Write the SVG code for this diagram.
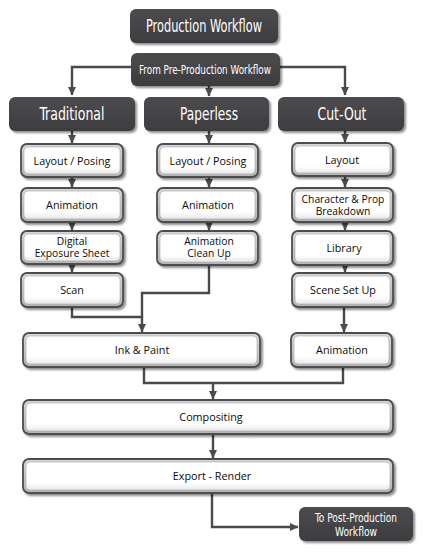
<svg xmlns="http://www.w3.org/2000/svg" width="423" height="552" viewBox="0 0 423 552">
<defs>
<marker id="arr" markerUnits="userSpaceOnUse" markerWidth="9" markerHeight="9" viewBox="0 0 9 9" refX="8" refY="4.5" orient="auto">
<path d="M0,0.5 L8.5,4.5 L0,8.5 Z" fill="#4a4a4c"/>
</marker>
<linearGradient id="wg" x1="0" y1="0" x2="0" y2="1">
<stop offset="0" stop-color="#ffffff"/>
<stop offset="0.75" stop-color="#ffffff"/>
<stop offset="1" stop-color="#e8e8e8"/>
</linearGradient>
<linearGradient id="og" x1="0" y1="0" x2="0" y2="1">
<stop offset="0" stop-color="#d8d8d8"/>
<stop offset="1" stop-color="#b4b4b4"/>
</linearGradient>
<linearGradient id="dg" x1="0" y1="0" x2="0" y2="1">
<stop offset="0" stop-color="#4c4b4e"/>
<stop offset="1" stop-color="#3e3d40"/>
</linearGradient>
<filter id="sh" x="-10%" y="-20%" width="125%" height="150%">
<feGaussianBlur in="SourceAlpha" stdDeviation="1.2"/>
<feOffset dx="1.5" dy="1.5" result="b"/>
<feComponentTransfer><feFuncA type="linear" slope="0.45"/></feComponentTransfer>
<feMerge><feMergeNode/><feMergeNode in="SourceGraphic"/></feMerge>
</filter>
</defs>
<style>
.dk{fill:url(#dg);filter:url(#sh)}
.wo{fill:url(#og);stroke:#4e4e50;stroke-width:1.8;filter:url(#sh)}
.wi{fill:url(#wg);stroke:#a8a8a8;stroke-width:0.6}
.tl{font-family:"Liberation Sans Narrow","DejaVu Sans Condensed","Liberation Sans",sans-serif;fill:#ffffff;text-anchor:middle}
.tw{font-family:"Open Sans","Noto Sans","Liberation Sans",sans-serif;font-size:10.8px;fill:#0a0a0a;text-anchor:middle}
.t2{font-size:10.3px}
.cn{fill:none;stroke:#4a4a4c;stroke-width:2.4}
</style>
<rect width="423" height="552" fill="#ffffff"/>

<g id="connectors">
<path class="cn" d="M131,67 H72 V95" marker-end="url(#arr)"/>
<path class="cn" d="M280,67 H345 V95" marker-end="url(#arr)"/>
<path class="cn" d="M209,86 V96" marker-end="url(#arr)"/>
<path class="cn" d="M72,131 V143" marker-end="url(#arr)"/>
<path class="cn" d="M209,131 V143" marker-end="url(#arr)"/>
<path class="cn" d="M345,131 V142" marker-end="url(#arr)"/>
<path class="cn" d="M72,177 V187" marker-end="url(#arr)"/>
<path class="cn" d="M72,222 V230" marker-end="url(#arr)"/>
<path class="cn" d="M72,264 V272" marker-end="url(#arr)"/>
<path class="cn" d="M209,177 V187" marker-end="url(#arr)"/>
<path class="cn" d="M209,222 V230" marker-end="url(#arr)"/>
<path class="cn" d="M345,176 V187" marker-end="url(#arr)"/>
<path class="cn" d="M345,222 V230" marker-end="url(#arr)"/>
<path class="cn" d="M345,265 V272" marker-end="url(#arr)"/>
<path class="cn" d="M72,307 V317 H142 V332" marker-end="url(#arr)"/>
<path class="cn" d="M209,265 V293 H142 V317"/>
<path class="cn" d="M344,307 V332" marker-end="url(#arr)"/>
<path class="cn" d="M144,367 V383 H343 V367"/>
<path class="cn" d="M213,383 V399" marker-end="url(#arr)"/>
<path class="cn" d="M213,434 V458" marker-end="url(#arr)"/>
<path class="cn" d="M212,493 V527 H298" marker-end="url(#arr)"/>
</g>

<g id="production-workflow">
<rect class="dk" x="130" y="9" width="148" height="34" rx="6"/>
<text class="tl" x="204" y="32" font-size="17" textLength="116" lengthAdjust="spacingAndGlyphs">Production Workflow</text>
</g>
<g id="from-pre-production">
<rect class="dk" x="131" y="53" width="149" height="33" rx="6"/>
<text class="tl" x="205" y="74" font-size="13" textLength="132" lengthAdjust="spacingAndGlyphs">From Pre-Production Workflow</text>
</g>
<g id="traditional">
<rect class="dk" x="9" y="97" width="126" height="34" rx="6"/>
<text class="tl" x="72" y="120" font-size="17" textLength="65" lengthAdjust="spacingAndGlyphs">Traditional</text>
</g>
<g id="paperless">
<rect class="dk" x="144" y="97" width="125" height="34" rx="6"/>
<text class="tl" x="209" y="120" font-size="17" textLength="58" lengthAdjust="spacingAndGlyphs">Paperless</text>
</g>
<g id="cut-out">
<rect class="dk" x="278" y="97" width="126" height="34" rx="6"/>
<text class="tl" x="342" y="120" font-size="17" textLength="49" lengthAdjust="spacingAndGlyphs">Cut-Out</text>
</g>

<g id="trad-layout">
<rect class="wo" x="21" y="144" width="102" height="33" rx="6"/>
<rect class="wi" x="24" y="147" width="96" height="27" rx="4"/>
<text class="tw" x="72" y="164.5">Layout / Posing</text>
</g>
<g id="trad-animation">
<rect class="wo" x="21" y="188" width="102" height="34" rx="6"/>
<rect class="wi" x="24" y="191" width="96" height="28" rx="4"/>
<text class="tw" x="72" y="208.5">Animation</text>
</g>
<g id="trad-xsheet">
<rect class="wo" x="21" y="231" width="102" height="33" rx="6"/>
<rect class="wi" x="24" y="234" width="96" height="27" rx="4"/>
<text class="tw t2" x="72" y="244.5"><tspan x="72">Digital</tspan><tspan x="72" dy="12.5">Exposure Sheet</tspan></text>
</g>
<g id="trad-scan">
<rect class="wo" x="21" y="273" width="102" height="34" rx="6"/>
<rect class="wi" x="24" y="276" width="96" height="28" rx="4"/>
<text class="tw" x="72" y="293.5">Scan</text>
</g>

<g id="pl-layout">
<rect class="wo" x="157" y="144" width="101" height="33" rx="6"/>
<rect class="wi" x="160" y="147" width="95" height="27" rx="4"/>
<text class="tw" x="208" y="164.5">Layout / Posing</text>
</g>
<g id="pl-animation">
<rect class="wo" x="157" y="188" width="101" height="34" rx="6"/>
<rect class="wi" x="160" y="191" width="95" height="28" rx="4"/>
<text class="tw" x="208" y="208.5">Animation</text>
</g>
<g id="pl-cleanup">
<rect class="wo" x="157" y="231" width="101" height="34" rx="6"/>
<rect class="wi" x="160" y="234" width="95" height="28" rx="4"/>
<text class="tw t2" x="209" y="244.5"><tspan x="209">Animation</tspan><tspan x="209" dy="12.5">Clean Up</tspan></text>
</g>

<g id="co-layout">
<rect class="wo" x="292" y="143" width="101" height="33" rx="6"/>
<rect class="wi" x="295" y="146" width="95" height="27" rx="4"/>
<text class="tw" x="342" y="163.5">Layout</text>
</g>
<g id="co-breakdown">
<rect class="wo" x="292" y="188" width="101" height="34" rx="6"/>
<rect class="wi" x="295" y="191" width="95" height="28" rx="4"/>
<text class="tw t2" x="343" y="202.5"><tspan x="343">Character &amp; Prop</tspan><tspan x="343" dy="12.5">Breakdown</tspan></text>
</g>
<g id="co-library">
<rect class="wo" x="292" y="231" width="101" height="34" rx="6"/>
<rect class="wi" x="295" y="234" width="95" height="28" rx="4"/>
<text class="tw" x="344" y="251.5">Library</text>
</g>
<g id="co-scene">
<rect class="wo" x="292" y="273" width="101" height="34" rx="6"/>
<rect class="wi" x="295" y="276" width="95" height="28" rx="4"/>
<text class="tw" x="343" y="293.5">Scene Set Up</text>
</g>

<g id="ink-paint">
<rect class="wo" x="23" y="333" width="237" height="34" rx="6"/>
<rect class="wi" x="26" y="336" width="231" height="28" rx="4"/>
<text class="tw" x="142" y="353.5">Ink &amp; Paint</text>
</g>
<g id="co-animation">
<rect class="wo" x="291" y="333" width="101" height="34" rx="6"/>
<rect class="wi" x="294" y="336" width="95" height="28" rx="4"/>
<text class="tw" x="342" y="353.5">Animation</text>
</g>
<g id="compositing">
<rect class="wo" x="23" y="400" width="370" height="34" rx="6"/>
<rect class="wi" x="26" y="403" width="364" height="28" rx="4"/>
<text class="tw" x="211" y="420.5">Compositing</text>
</g>
<g id="export-render">
<rect class="wo" x="23" y="459" width="370" height="34" rx="6"/>
<rect class="wi" x="26" y="462" width="364" height="28" rx="4"/>
<text class="tw" x="212" y="479.5">Export - Render</text>
</g>
<g id="to-post-production">
<rect class="dk" x="299" y="507" width="114" height="34" rx="6"/>
<text class="tl" x="356" y="521.5" font-size="12.5"><tspan x="356" textLength="82" lengthAdjust="spacingAndGlyphs">To Post-Production</tspan><tspan x="356" dy="14.5" textLength="42" lengthAdjust="spacingAndGlyphs">Workflow</tspan></text>
</g>
</svg>
